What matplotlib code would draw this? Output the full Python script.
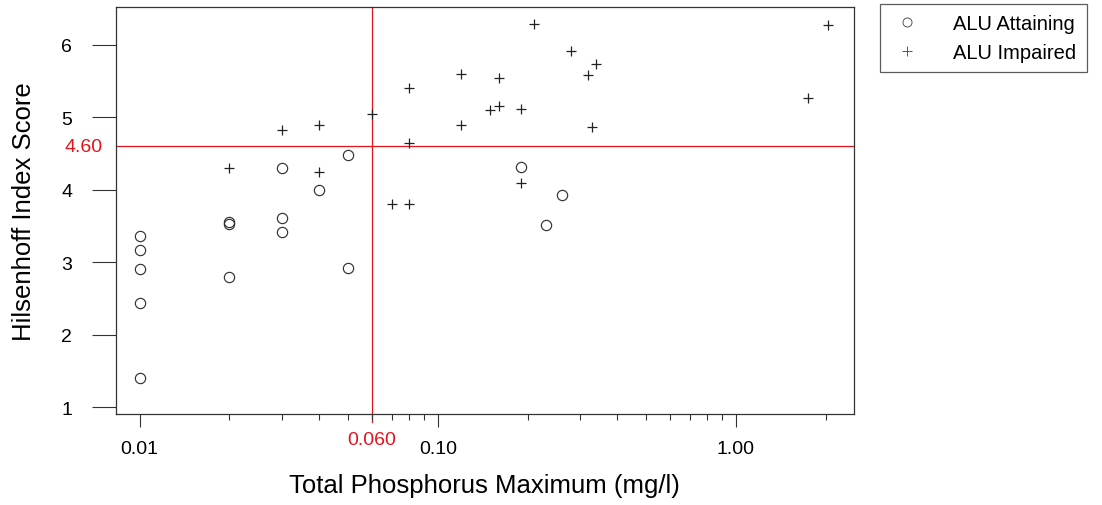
import numpy as np
import matplotlib
matplotlib.use("Agg")
import matplotlib.pyplot as plt
from matplotlib.ticker import FixedLocator, NullFormatter
from matplotlib.lines import Line2D
import matplotlib.transforms as mtransforms

plt.rcParams['font.family'] = ['Liberation Sans', 'DejaVu Sans']

# ALU attaining sites
attain_tp = [0.01, 0.01, 0.01, 0.01, 0.01, 0.02, 0.02, 0.02, 0.03, 0.03, 0.03,
             0.04, 0.05, 0.05, 0.19, 0.23, 0.26]
attain_hbi = [3.37, 3.17, 2.91, 2.44, 1.40, 3.55, 3.53, 2.80, 3.61, 3.42, 4.30,
              4.00, 2.92, 4.48, 4.31, 3.51, 3.93]

# ALU impaired sites
impair_tp = [0.02, 0.03, 0.04, 0.04, 0.06, 0.07, 0.08, 0.08, 0.08, 0.12, 0.12,
             0.15, 0.16, 0.16, 0.19, 0.19, 0.21, 0.28, 0.32, 0.33, 0.34, 1.75, 2.03]
impair_hbi = [4.30, 4.83, 4.90, 4.24, 5.04, 3.81, 3.81, 5.41, 4.65, 5.60, 4.90,
              5.10, 5.54, 5.16, 5.12, 4.09, 6.29, 5.92, 5.58, 4.86, 5.73, 5.27, 6.27]

tp_threshold = 0.06
hbi_threshold = 4.60

x_major = [0.01, 0.1, 1.0]
x_major_labels = ["0.01", "0.10", "1.00"]
y_ticks = [1, 2, 3, 4, 5, 6]

red = '#e3141c'
dark = '#333333'

fig = plt.figure(figsize=(11.02, 5.06), dpi=100)
ax = fig.add_axes([0.105, 0.1798, 0.670, 0.8044])

ax.plot(attain_tp, attain_hbi, linestyle='none', marker='o', markersize=7.4,
        markerfacecolor='none', markeredgecolor=dark, markeredgewidth=0.85)
ax.plot(impair_tp, impair_hbi, linestyle='none', marker='+', markersize=7.5,
        color='#222222', markeredgewidth=0.9)

ax.set_xscale('log')
ax.set_xlim(0.00831, 2.49)
ax.set_ylim(0.91, 6.52)

# threshold lines
ax.axhline(hbi_threshold, color=red, lw=0.9, zorder=1)
ax.axvline(tp_threshold, ymin=-0.02, ymax=1, color=red, lw=0.9, zorder=1, clip_on=False)

# ticks
ax.xaxis.set_major_locator(FixedLocator(x_major))
ax.set_xticklabels(x_major_labels)
minor = [k * d for d in (0.01, 0.1, 1.0) for k in range(2, 10)]
ax.xaxis.set_minor_locator(FixedLocator(minor))
ax.xaxis.set_minor_formatter(NullFormatter())
ax.set_yticks(y_ticks)

ax.tick_params(axis='x', which='major', length=9.4, width=0.8, color=dark,
               labelsize=14, pad=9)
ax.tick_params(axis='x', which='minor', length=4.3, width=0.8, color=dark)
ax.tick_params(axis='y', which='major', length=17.3, width=0.8, color=dark,
               labelsize=14, pad=14)

for s in ax.spines.values():
    s.set_color(dark)
    s.set_linewidth(0.9)

# red threshold labels
tx = mtransforms.blended_transform_factory(ax.transData, ax.transAxes)
ax.text(tp_threshold, -0.062, "0.060", transform=tx, color=red, fontsize=14,
        ha='center', va='center', clip_on=False)
ty = mtransforms.blended_transform_factory(ax.transAxes, ax.transData)
off = mtransforms.ScaledTranslation(-13 / 100, 0, fig.dpi_scale_trans)
ax.text(0, hbi_threshold, "4.60", transform=ty + off, color=red, fontsize=14,
        ha='right', va='center', clip_on=False)

ax.set_xlabel('Total Phosphorus Maximum (mg/l)', fontsize=18.5, labelpad=12)
ax.set_ylabel('Hilsenhoff Index Score', fontsize=18.5, labelpad=18)

handles = [
    Line2D([], [], linestyle='none', marker='o', markersize=6.5, markerfacecolor='none',
           markeredgecolor='#555555', markeredgewidth=0.7),
    Line2D([], [], linestyle='none', marker='+', markersize=7, color='#555555',
           markeredgewidth=0.7),
]
leg = fig.legend(handles, ['ALU Attaining', 'ALU Impaired'], loc='upper left',
                 bbox_to_anchor=(0.7985, 0.99), bbox_transform=fig.transFigure,
                 borderaxespad=0, fancybox=False, frameon=True, fontsize=14.5,
                 handlelength=1.7, handletextpad=1.45, labelspacing=0.5,
                 borderpad=0.5)
leg.get_frame().set_edgecolor(dark)
leg.get_frame().set_linewidth(0.9)

fig.savefig('out.png', dpi=100)
